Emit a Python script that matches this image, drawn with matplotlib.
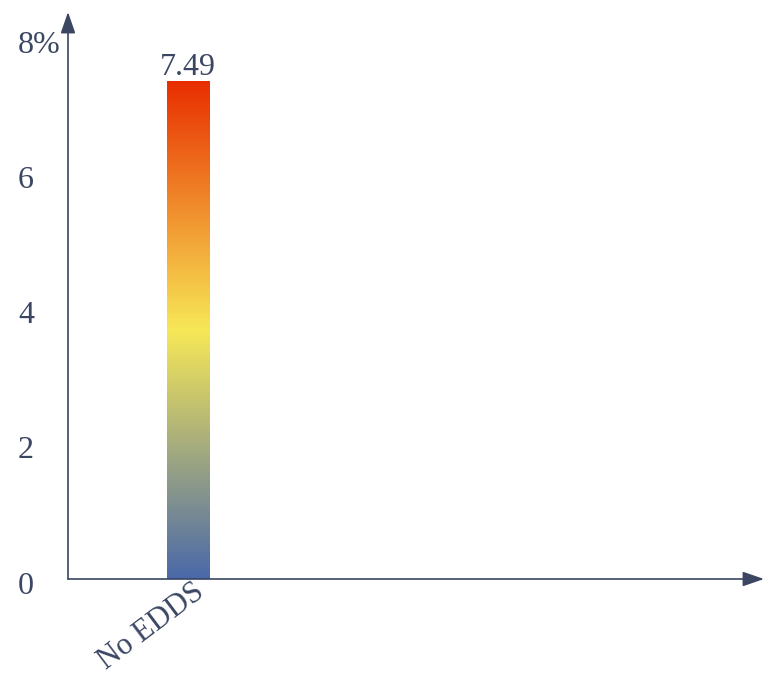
import numpy as np
import matplotlib.pyplot as plt
from matplotlib.colors import LinearSegmentedColormap
from matplotlib.transforms import ScaledTranslation

categories = ['No EDDS']
values = [7.49]
yticks = [0, 2, 4, 6, 8]
ytick_labels = ['0', '2', '4', '6', '8%']

ink = '#3b4663'
plt.rcParams['font.family'] = ['Liberation Serif', 'DejaVu Serif']
fs = 23

fig = plt.figure(figsize=(7.66, 6.77), dpi=100)
W, H = 766, 677
# axes box in pixels: left 68, right 764, top 12, bottom 579
ax = fig.add_axes([68 / W, 1 - 579 / H, (764 - 68) / W, (579 - 12) / H])
for s in ax.spines.values():
    s.set_visible(False)
ax.set_xticks([])
ax.set_yticks([])

# axis arrows
arrow = dict(arrowstyle='-|>,head_length=1.3,head_width=0.45',
             color=ink, lw=1.2, shrinkA=0, shrinkB=0)
ax.annotate('', xy=(1, 0), xytext=(0, 0), xycoords='axes fraction', arrowprops=arrow)
ax.annotate('', xy=(0, 1), xytext=(0, 0), xycoords='axes fraction', arrowprops=arrow)

cmap = LinearSegmentedColormap.from_list('grad', ['#4a69a9', '#f7e857', '#e82e00'])
grad = np.linspace(0, 1, 256).reshape(-1, 1)
width = 1.0
for i, (cat, v) in enumerate(zip(categories, values)):
    ax.imshow(grad, cmap=cmap, origin='lower', aspect='auto',
              extent=[i - width / 2, i + width / 2, 0, v], zorder=2)
    ax.text(i, v - 0.02, f'{v:.2f}', ha='center', va='bottom',
            fontsize=fs, color=ink)
    ax.text(i + 0.1, 0.02, cat, rotation=37, rotation_mode='anchor',
            ha='right', va='top', fontsize=22, color=ink)

# tick labels sit a little off the even spacing in the reference
for t, lab in zip(yticks, ytick_labels):
    dy = (7 - 9 * t / 8) / 100
    off = ScaledTranslation(0, -dy, fig.dpi_scale_trans)
    ax.text(-50 / 696, t, lab, transform=ax.get_yaxis_transform() + off,
            ha='left', va='center', fontsize=fs, color=ink)

ax.set_xlim(-2.8, 13.39)
ax.set_ylim(0, 8.53)

fig.savefig('out.png', dpi=100)
